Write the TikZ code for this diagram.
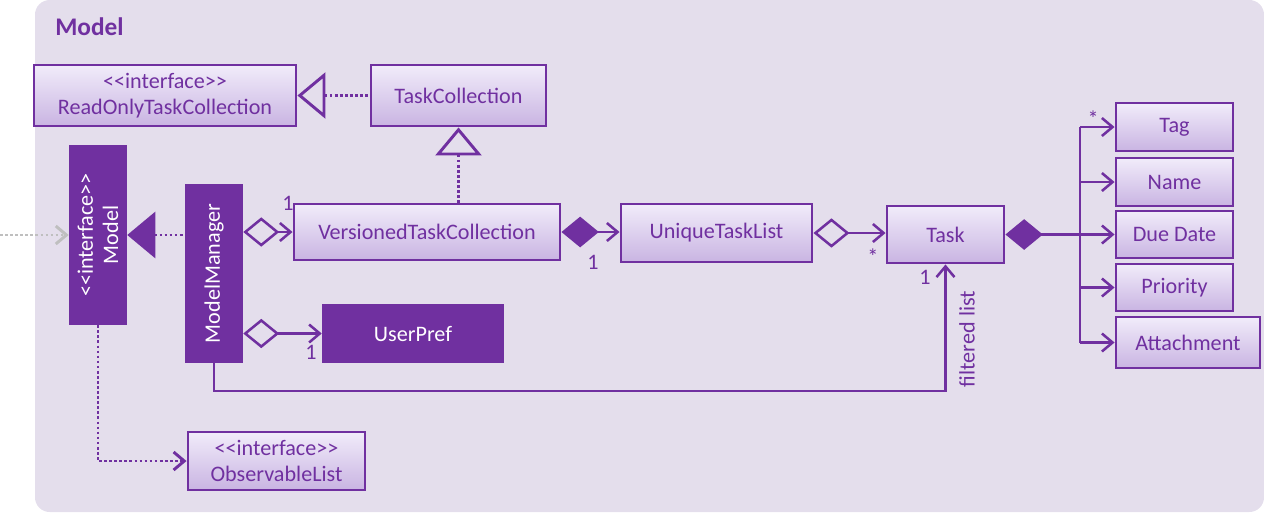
\documentclass[tikz,border=0pt]{standalone}
\usepackage{fontspec}
\setmainfont{Carlito}
\usepackage{tikz}
\usetikzlibrary{arrows.meta}
\usetikzlibrary{calc}

\definecolor{umlpurple}{HTML}{7030A0}
\definecolor{umlbg}{HTML}{E4DEEC}
\definecolor{umltop}{HTML}{F1ECFA}
\definecolor{umlbot}{HTML}{C9B4E2}
\definecolor{umlgrey}{HTML}{BFBFBF}

\newcommand{\stereo}[1]{<\kern0pt<#1>\kern0pt>}

\tikzset{
  umlopen/.tip={Straight Barb[length=8pt, width=13.5pt]},
  umlodia/.tip={Diamond[open, length=27pt, width=22pt]},
  umlfdia/.tip={Diamond[length=28pt, width=23pt]},
  umltri/.tip={Triangle[open, length=21pt, width=34.5pt]},
  umlftri/.tip={Triangle[length=21pt, width=34.5pt]},
  sz/.style 2 args={minimum width=#1*0.75pt, minimum height=#2*0.75pt},
  cls/.style={draw=umlpurple, line width=2.2pt, top color=umltop, bottom color=umlbot,
    text=umlpurple, align=center, inner sep=0, font=\fontsize{16.6}{19}\selectfont},
  clsdark/.style={fill=umlpurple, text=white, align=center, inner sep=0,
    font=\fontsize{16.6}{19}\selectfont},
  ln/.style={draw=umlpurple, line width=1.9pt},
  dots/.style={ln, line width=2.2pt, dash pattern=on 2pt off 1.8pt},
  mult/.style={text=umlpurple, inner sep=0, font=\fontsize{16.6}{19}\selectfont}
}

\begin{document}
\begin{tikzpicture}[x=0.75pt, y=-0.75pt]
            \useasboundingbox (0,0) rectangle (1264,512);
            \fill[umlbg, rounded corners=11pt] (35,0) rectangle (1264,512);
            \node[anchor=base west, inner sep=0, text=umlpurple, font=\fontsize{19}{22}\selectfont\bfseries] (title) at (55,35) {Model};

            \node[cls, sz={262}{61}] (rotc) at (165,95.5) {\stereo{interface}\\ReadOnlyTaskCollection};
            \node[cls, sz={175}{61}] (tc) at (458.5,95.5) {TaskCollection};
            \node[clsdark, sz={58}{180}] (imodel) at (98,235) {};
            \node[rotate=90, text=white, align=center, font=\fontsize{16.6}{19}\selectfont] (imodeltxt) at (imodel) {\stereo{interface}\\Model};
            \node[clsdark, sz={58}{179}] (mm) at (214,273.5) {};
            \node[rotate=90, text=white, font=\fontsize{16.6}{19}\selectfont] (mmtxt) at (mm) {ModelManager};
            \node[cls, sz={266}{56}] (vtc) at (427,232) {VersionedTaskCollection};
            \node[cls, sz={191}{58}] (utl) at (716.5,233) {UniqueTaskList};
            \node[cls, sz={117}{57}] (task) at (945.5,234.5) {Task};
            \node[clsdark, sz={182}{59}] (up) at (413,333.5) {UserPref};
            \node[cls, sz={177}{58}] (ol) at (276.5,461) {\stereo{interface}\\ObservableList};

            \node[cls, sz={117}{48}] (tag) at (1174.5,127) {Tag};
            \node[cls, sz={117}{48}] (name) at (1174.5,182) {Name};
            \node[cls, sz={117}{47}] (due) at (1174.5,234.5) {Due Date};
            \node[cls, sz={117}{47}] (prio) at (1174.5,287.5) {Priority};
            \node[cls, sz={144}{51}] (att) at (1188,342.5) {Attachment};

            % realisation and inheritance
            \draw[dots, {umltri}-] (rotc.east) -- (tc.west);
            \draw[dots, {umltri}-] (tc.south) -- (tc.south |- vtc.north);
            \draw[dots, {umlftri}-] (imodel.east) -- (imodel.east -| mm.west);
            \coordinate (ext) at (0,235);
            \draw[draw=umlgrey, line width=2.2pt, dash pattern=on 2pt off 1.8pt, -{umlopen}] (ext) -- (imodel.west);
            \draw[dots, -{umlopen}] (imodel.south) |- (ol.west);

            % associations
            \draw[ln, {umlodia}-{umlopen}] (mm.east |- vtc.west) -- (vtc.west);
            \node[mult] (m1) at (288,203) {1};
            \draw[ln, {umlfdia}-{umlopen}] (vtc.east) -- (vtc.east -| utl.west);
            \node[mult] (m2) at (593,262) {1};
            \draw[ln, {umlodia}-{umlopen}] (utl.east) -- (utl.east -| task.west);
            \node[mult] (m3) at (873,257) {*};
            \draw[ln, {umlodia}-{umlopen}] (mm.east |- up.west) -- (up.west);
            \node[mult] (m4) at (311,352) {1};

            \coordinate (flc) at (945.5,391);
            \draw[ln, -{umlopen}] (mm.south) |- (flc) -- (task.south);
            \node[mult] (m5) at (925,277) {1};
            \node[mult, rotate=90] (fl) at (967,339) {filtered list};

            % task attributes
            \coordinate (bus) at (1080,234.5);
            \draw[ln, {umlfdia}-] (task.east) -- (bus);
            \draw[ln] (bus |- tag) -- (bus |- att);
            \foreach \a in {tag,name,due,prio,att}
                \draw[ln, -{umlopen}] (bus |- \a) -- (\a.west);
            \node[mult] (m6) at (1093,119) {*};
        \end{tikzpicture}
\end{document}
